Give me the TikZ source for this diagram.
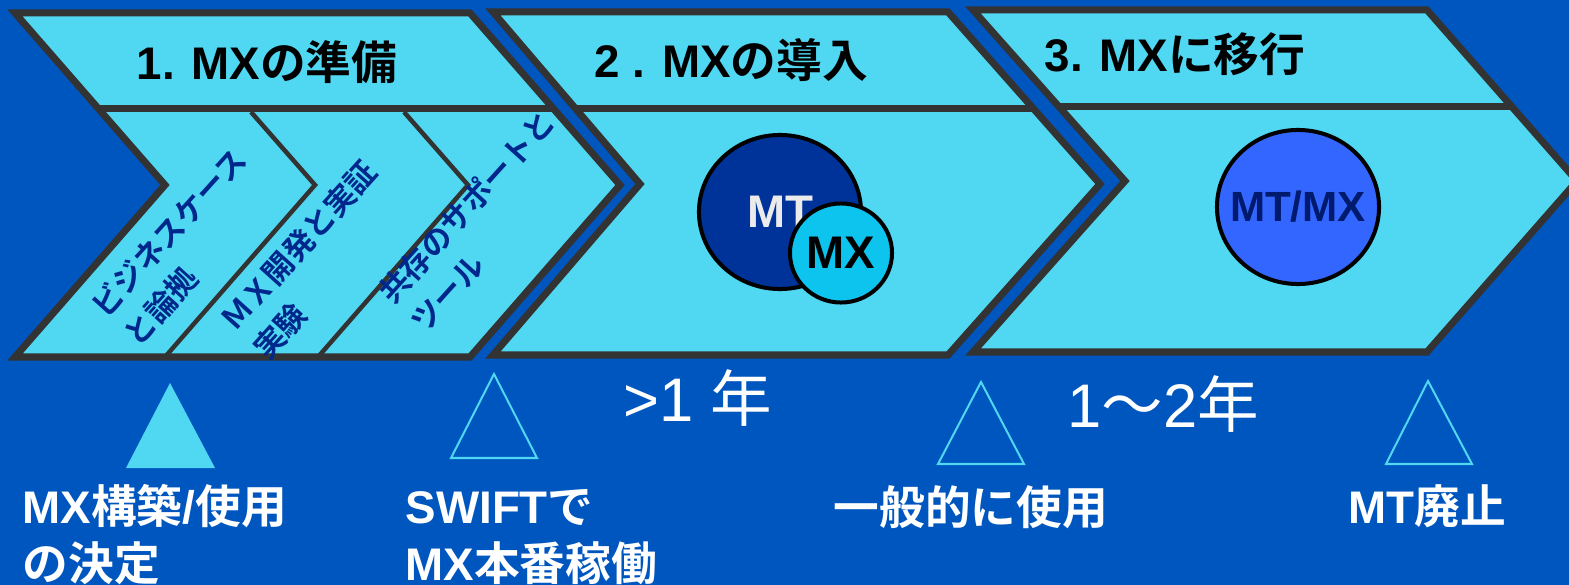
\documentclass[tikz,border=0pt]{standalone}
\usepackage{fontspec}
\setmainfont{Liberation Sans}
\newfontfamily\jp{Noto Sans CJK JP}[BoldFont={Noto Sans CJK JP Bold}]
\usetikzlibrary{shapes.geometric}
\definecolor{bg}{RGB}{0,86,191}
\definecolor{chev}{RGB}{80,216,242}
\definecolor{edgec}{RGB}{51,51,51}
\definecolor{navy}{RGB}{0,40,140}
\definecolor{mtblue}{RGB}{0,51,153}
\definecolor{mxcyan}{RGB}{12,196,238}
\definecolor{mixblue}{RGB}{51,102,255}
\definecolor{mixtext}{RGB}{0,26,110}
\definecolor{mtgray}{RGB}{235,235,235}
\tikzset{
  chevbody/.style={fill=chev},
  chevedge/.style={draw=edgec, line width=0.07cm, line join=miter},
  headline/.style={draw=edgec, line width=0.07cm},
  subline/.style={draw=edgec, line width=0.045cm},
  headtxt/.style={font=\fontsize{13}{15}\selectfont\bfseries, text=black, inner sep=0, anchor=base},
  steptxt/.style={font=\jp\bfseries\fontsize{8.7}{12.3}\selectfont, text=navy, rotate=48, align=left, inner sep=0},
  marklbl/.style={font=\fontsize{13}{16}\selectfont\bfseries, text=white, inner sep=0, anchor=base west},
  durlbl/.style={font=\fontsize{17.5}{20}\selectfont, text=white, inner sep=0, anchor=base west},
  filltri/.style={fill=chev},
  opentri/.style={draw=chev, line width=0.02cm, line join=miter},
  bubble/.style={ellipse, draw=black, line width=0.04cm, inner sep=0},
  bubbletxt/.style={inner sep=0, font=\fontsize{13}{15}\selectfont\bfseries}
}
\begin{document}
\begin{tikzpicture}[x=0.01cm, y=-0.01cm]
\useasboundingbox (0,0) rectangle (1569,585);
\fill[bg] (0,0) rectangle (1569,585);
\clip (0,0) rectangle (1569,585);

% chevron 1
\path[chevbody] (15,13) -- (470,13) -- (620,185) -- (470,357) -- (15,357) -- (165,185) -- cycle;
\begin{scope}
  \clip (15,13) -- (470,13) -- (620,185) -- (470,357) -- (15,357) -- (165,185) -- cycle;
  \draw[subline] (251,112) -- (315,185) -- (165,357);
  \draw[subline] (404,112) -- (468,185) -- (318,357);
  \draw[headline] (0,109) -- (700,109);
\end{scope}
\draw[chevedge] (15,13) -- (470,13) -- (620,185) -- (470,357) -- (15,357) -- (165,185) -- cycle;

% chevron 2
\path[chevbody] (493,12) -- (948,12) -- (1100,184) -- (948,355) -- (493,355) -- (640,184) -- cycle;
\begin{scope}
  \clip (493,12) -- (948,12) -- (1100,184) -- (948,355) -- (493,355) -- (640,184) -- cycle;
  \draw[headline] (480,109) -- (1120,109);
\end{scope}
\draw[chevedge] (493,12) -- (948,12) -- (1100,184) -- (948,355) -- (493,355) -- (640,184) -- cycle;

% chevron 3
\path[chevbody] (973,10) -- (1427,10) -- (1577,181) -- (1427,352) -- (973,352) -- (1125,181) -- cycle;
\begin{scope}
  \clip (973,10) -- (1427,10) -- (1577,181) -- (1427,352) -- (973,352) -- (1125,181) -- cycle;
  \draw[headline] (960,107) -- (1600,107);
\end{scope}
\draw[chevedge] (973,10) -- (1427,10) -- (1577,181) -- (1427,352) -- (973,352) -- (1125,181) -- cycle;

% headers
\node[headtxt] (h1) at (267,80) {1. MX{\jp の準備}};
\node[headtxt] (h2) at (731,78) {2 . MX{\jp の導入}};
\node[headtxt] (h3) at (1175,72) {3. MX{\jp に移行}};

% step labels
\node[steptxt] (s1) at (185,247) {ビジネスケース\\と論拠};
\node[steptxt] (s2) at (315,260) {ＭＸ開発と実証\\実験};
\node[steptxt] (s3) at (482,221) {共存のサポートと\\ツール};

% circles
\node[bubble, fill=mtblue, minimum width=1.62cm, minimum height=1.54cm] (mt) at (780,212) {};
\node[bubbletxt, text=mtgray] (mtt) at (mt.center) {MT};
\node[bubble, fill=mxcyan, minimum width=1.02cm, minimum height=0.99cm] (mx) at (841,253) {};
\node[bubbletxt, text=black] (mxt) at (mx.center) {MX};
\node[bubble, fill=mixblue, minimum width=1.62cm, minimum height=1.54cm] (mtmx) at (1298,207) {};
\node[bubbletxt, text=mixtext, font=\fontsize{12}{14}\selectfont\bfseries] (mtmxt) at (mtmx.center) {MT/MX};

% milestone triangles
\fill[filltri] (170,383) -- (215,468) -- (126,468) -- cycle;
\draw[opentri] (494,374) -- (537,458) -- (451,458) -- cycle;
\draw[opentri] (981,382) -- (1024,464) -- (938,464) -- cycle;
\draw[opentri] (1428,381) -- (1472,464) -- (1386,464) -- cycle;

% durations
\node[durlbl] (d1) at (623,422) {>1 {\jp 年}};
\node[durlbl] (d2) at (1067,427) {1{\jp ～}2{\jp 年}};

% milestone labels
\node[marklbl] (m1a) at (22,523) {MX{\jp 構築}/{\jp 使用}};
\node[marklbl] (m1b) at (22,580) {\jp の決定};
\node[marklbl] (m2a) at (405,523) {SWIFT{\jp で}};
\node[marklbl] (m2b) at (405,580) {MX{\jp 本番稼働}};
\node[marklbl] (m3) at (833,524) {\jp 一般的に使用};
\node[marklbl] (m4) at (1348,523) {MT{\jp 廃止}};
\end{tikzpicture}
\end{document}
